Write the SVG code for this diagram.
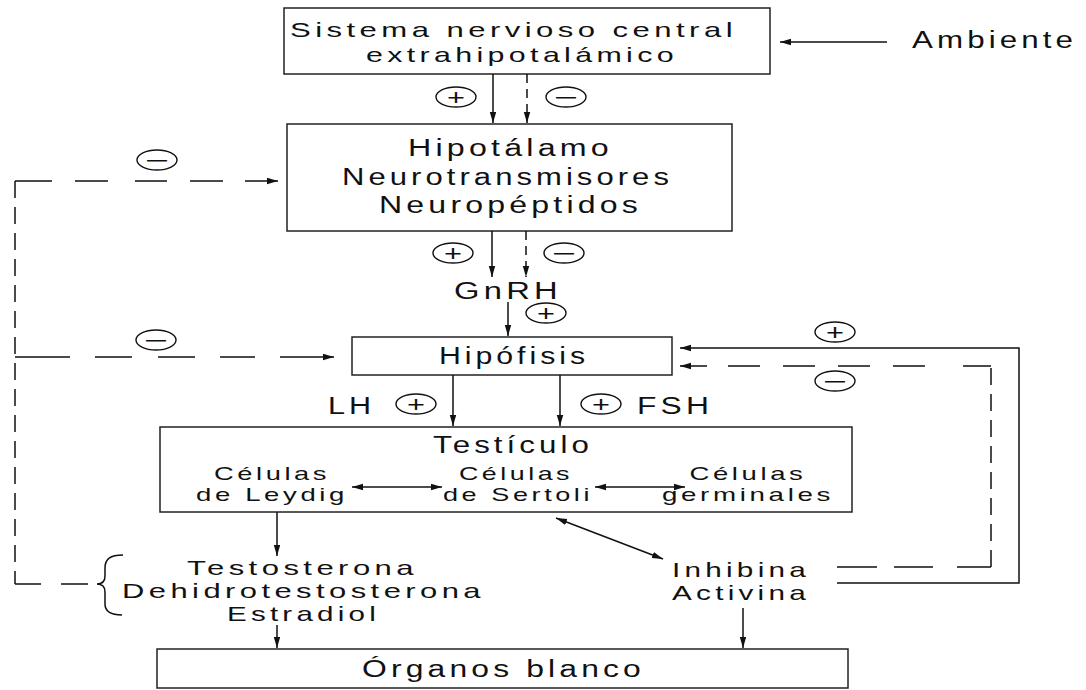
<svg xmlns="http://www.w3.org/2000/svg" width="1086" height="690" viewBox="0 0 1086 690">
<style>
text{font-family:"Liberation Sans",Arial,sans-serif;fill:#111;}
.t{font-size:23px;letter-spacing:3px;text-anchor:middle;}
.m{font-size:21px;letter-spacing:3px;text-anchor:middle;}
.s{font-size:19px;letter-spacing:2.5px;text-anchor:middle;}
.box{fill:none;stroke:#222;stroke-width:1.5;}
.ln{fill:none;stroke:#111;stroke-width:1.5;}
.ar{marker-end:url(#ah);}
.da{marker-start:url(#ah);marker-end:url(#ah);}
.vd{stroke-dasharray:17 9;}
.sd{stroke-dasharray:9 6;}
.sg{fill:#fff;stroke:#111;stroke-width:1.4;}
.sym{font-size:22px;text-anchor:middle;}
</style>
<defs>
<marker id="ah" markerUnits="userSpaceOnUse" markerWidth="12" markerHeight="8" refX="11" refY="4" orient="auto-start-reverse" viewBox="0 0 12 8"><path d="M0,0.8 L11,4 L0,7.2 z" fill="#111"/></marker>
</defs>
<rect width="1086" height="690" fill="#fff"/>

<g id="n-snc">
<rect class="box" x="284" y="8" width="486" height="66"/>
<text class="m" x="513.5" y="37" textLength="447" lengthAdjust="spacingAndGlyphs">Sistema nervioso central</text>
<text class="m" x="522" y="62" textLength="312" lengthAdjust="spacingAndGlyphs">extrahipotalámico</text>
</g>
<g id="n-ambiente">
<text class="t" x="994.5" y="48" textLength="165" lengthAdjust="spacingAndGlyphs">Ambiente</text>
</g>
<g id="n-hipotalamo">
<rect class="box" x="287" y="124" width="445" height="107"/>
<text class="t" x="510.5" y="156" textLength="205" lengthAdjust="spacingAndGlyphs">Hipotálamo</text>
<text class="t" x="507.5" y="185" textLength="331" lengthAdjust="spacingAndGlyphs">Neurotransmisores</text>
<text class="t" x="510.5" y="213" textLength="263" lengthAdjust="spacingAndGlyphs">Neuropéptidos</text>
</g>
<g id="n-gnrh">
<text class="t" x="508" y="299" textLength="108" lengthAdjust="spacingAndGlyphs">GnRH</text>
</g>
<g id="n-hipofisis">
<rect class="box" x="352" y="337" width="320" height="38"/>
<text class="t" x="514" y="364" textLength="150" lengthAdjust="spacingAndGlyphs">Hipófisis</text>
</g>
<g id="n-lh"><text class="t" x="351.5" y="414" textLength="47" lengthAdjust="spacingAndGlyphs">LH</text></g>
<g id="n-fsh"><text class="t" x="675" y="414" textLength="76" lengthAdjust="spacingAndGlyphs">FSH</text></g>
<g id="n-testiculo">
<rect class="box" x="160" y="427" width="692" height="85"/>
<text class="t" x="513" y="453" textLength="160" lengthAdjust="spacingAndGlyphs">Testículo</text>
</g>
<g id="n-leydig">
<text class="s" x="272" y="480" textLength="116" lengthAdjust="spacingAndGlyphs">Células</text>
<text class="s" x="272" y="501" textLength="152" lengthAdjust="spacingAndGlyphs">de Leydig</text>
</g>
<g id="n-sertoli">
<text class="s" x="516" y="480" textLength="114" lengthAdjust="spacingAndGlyphs">Células</text>
<text class="s" x="518" y="501" textLength="150" lengthAdjust="spacingAndGlyphs">de Sertoli</text>
</g>
<g id="n-germinales">
<text class="s" x="748" y="480" textLength="117" lengthAdjust="spacingAndGlyphs">Células</text>
<text class="s" x="748" y="501" textLength="172" lengthAdjust="spacingAndGlyphs">germinales</text>
</g>
<g id="n-esteroides">
<path class="ln" d="M123,555 C110,555 105,559 105,568 L105,576 C105,581 102,584 97,584 C102,584 105,587 105,592 L105,604 C105,611 110,615 122,615"/>
<text class="m" x="302.5" y="575" textLength="231" lengthAdjust="spacingAndGlyphs">Testosterona</text>
<text class="m" x="303.5" y="598" textLength="363" lengthAdjust="spacingAndGlyphs">Dehidrotestosterona</text>
<text class="m" x="303.5" y="621" textLength="153" lengthAdjust="spacingAndGlyphs">Estradiol</text>
</g>
<g id="n-inhibina">
<text class="m" x="741" y="577" textLength="138" lengthAdjust="spacingAndGlyphs">Inhibina</text>
<text class="m" x="741" y="600" textLength="138" lengthAdjust="spacingAndGlyphs">Activina</text>
</g>
<g id="n-organos">
<rect class="box" x="157" y="649" width="691" height="39"/>
<text class="t" x="503.5" y="677" textLength="283" lengthAdjust="spacingAndGlyphs">Órganos blanco</text>
</g>

<g id="connectors">
<line class="ln ar" x1="887" y1="42" x2="780" y2="42"/>
<line class="ln ar" x1="493" y1="74" x2="493" y2="123"/>
<line class="ln ar sd" x1="527" y1="74" x2="527" y2="123"/>
<line class="ln ar" x1="492" y1="231" x2="492" y2="277"/>
<line class="ln ar sd" x1="526" y1="231" x2="526" y2="277"/>
<line class="ln ar" x1="508" y1="302" x2="508" y2="336"/>
<line class="ln ar" x1="453" y1="375" x2="453" y2="426"/>
<line class="ln ar" x1="560" y1="375" x2="560" y2="426"/>
<line class="ln da" x1="352" y1="487" x2="442" y2="487"/>
<line class="ln da" x1="595" y1="487" x2="685" y2="487"/>
<line class="ln da" x1="556" y1="518" x2="663" y2="559"/>
<line class="ln ar" x1="277" y1="512" x2="277" y2="556"/>
<line class="ln ar" x1="277" y1="625" x2="277" y2="648"/>
<line class="ln ar" x1="743" y1="608" x2="743" y2="648"/>
<line class="ln ar" x1="15" y1="181" x2="278" y2="181" style="stroke-dasharray:37 23 33 27 32 23 33 22 40"/>
<line class="ln vd" x1="15" y1="181" x2="15" y2="584"/>
<line class="ln ar" x1="15" y1="357" x2="334" y2="357" style="stroke-dasharray:55 25 37 26 37 25 35 25 60"/>
<line class="ln" x1="15" y1="584" x2="88" y2="584" style="stroke-dasharray:26 20 27"/>
<polyline class="ln ar" points="837,583 1019,583 1019,348 680,348"/>
<line class="ln" x1="837" y1="567" x2="991" y2="567" style="stroke-dasharray:40 17 39 24 40"/>
<line class="ln vd" x1="991" y1="567" x2="991" y2="366"/>
<line class="ln ar" x1="991" y1="366" x2="680" y2="366" style="stroke-dasharray:28 38 32 23 32 23 32 23 32 21 40"/>
</g>

<g id="signs">
<ellipse class="sg" cx="456" cy="97" rx="20" ry="10"/><text class="sym" x="456" y="104.5" textLength="18" lengthAdjust="spacingAndGlyphs">+</text>
<ellipse class="sg" cx="566" cy="97" rx="20" ry="10"/><text class="sym" x="566" y="104.5" textLength="24" lengthAdjust="spacingAndGlyphs">−</text>
<ellipse class="sg" cx="157" cy="160" rx="20" ry="10"/><text class="sym" x="157" y="167.5" textLength="24" lengthAdjust="spacingAndGlyphs">−</text>
<ellipse class="sg" cx="453" cy="253" rx="20" ry="10"/><text class="sym" x="453" y="260.5" textLength="18" lengthAdjust="spacingAndGlyphs">+</text>
<ellipse class="sg" cx="564" cy="253" rx="20" ry="10"/><text class="sym" x="564" y="260.5" textLength="24" lengthAdjust="spacingAndGlyphs">−</text>
<ellipse class="sg" cx="546" cy="313" rx="20" ry="10"/><text class="sym" x="546" y="320.5" textLength="18" lengthAdjust="spacingAndGlyphs">+</text>
<ellipse class="sg" cx="156" cy="340" rx="20" ry="10"/><text class="sym" x="156" y="347.5" textLength="24" lengthAdjust="spacingAndGlyphs">−</text>
<ellipse class="sg" cx="835" cy="332" rx="20" ry="10"/><text class="sym" x="835" y="339.5" textLength="18" lengthAdjust="spacingAndGlyphs">+</text>
<ellipse class="sg" cx="835" cy="381" rx="20" ry="10"/><text class="sym" x="835" y="388.5" textLength="24" lengthAdjust="spacingAndGlyphs">−</text>
<ellipse class="sg" cx="416" cy="404" rx="20" ry="10"/><text class="sym" x="416" y="411.5" textLength="18" lengthAdjust="spacingAndGlyphs">+</text>
<ellipse class="sg" cx="601" cy="404" rx="20" ry="10"/><text class="sym" x="601" y="411.5" textLength="18" lengthAdjust="spacingAndGlyphs">+</text>
</g>
</svg>
